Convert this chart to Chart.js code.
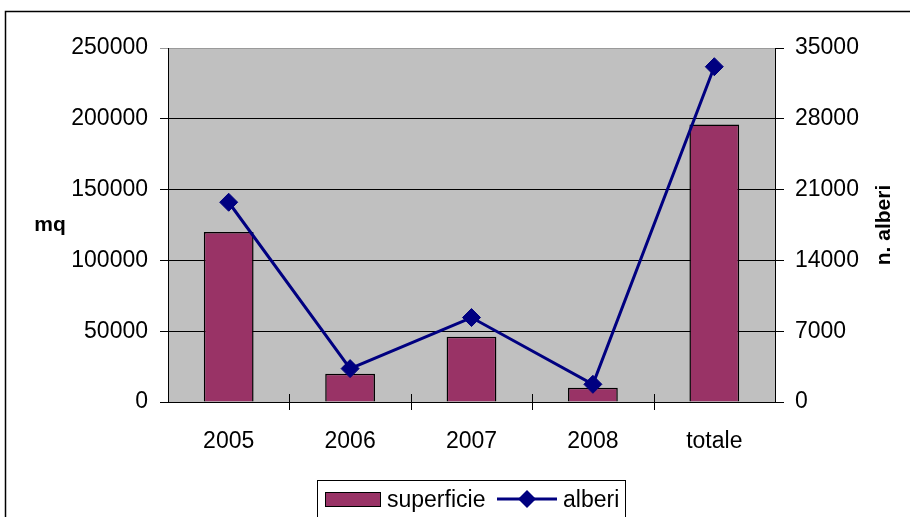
<!DOCTYPE html>
<html>
<head>
<meta charset="utf-8">
<title>superficie e alberi</title>
<script src="https://cdn.jsdelivr.net/npm/chart.js@4/dist/chart.umd.min.js"></script>
<style>
  html, body { margin: 0; padding: 0; background: #ffffff; }
  #wrap { width: 910px; height: 517px; }
</style>
</head>
<body>
<div id="wrap"><canvas id="grafico" width="910" height="517"></canvas></div>
<script>
// ===============================
// Dati
// ===============================
var anni = ["2005", "2006", "2007", "2008", "totale"];
var superficie = [120000, 20000, 46000, 10000, 196000];   // mq
var alberi = [19750, 3300, 8350, 1750, 33150];             // n. alberi

// valori delle tacche sui due assi
var tickMq = [0, 50000, 100000, 150000, 200000, 250000];
var tickAlberi = [0, 7000, 14000, 21000, 28000, 35000];

var FONT = "'Liberation Sans', Arial, sans-serif";
var BORDEAUX = "#993366";
var BLU = "#000080";

// numeri senza separatore delle migliaia
function senzaSeparatori(v) {
    return String(v);
}

// ===============================
// Plugin: sfondo grigio, cornice, titoli assi, legenda
// ===============================
var decorazioni = {
    id: "decorazioni",
    beforeDraw: function(chart) {
        var c = chart.ctx;
        var a = chart.chartArea;
        c.save();
        c.fillStyle = "#c0c0c0";
        c.fillRect(a.left, a.top, a.right - a.left, a.bottom - a.top);
        c.restore();
    },
    afterDraw: function(chart) {
        var c = chart.ctx;
        var a = chart.chartArea;
        var x = chart.scales.x;
        c.save();

        // tacche dell'asse x tra le categorie (attraversano l'asse)
        c.strokeStyle = "#000";
        c.lineWidth = 1;
        var passo = (x.right - x.left) / anni.length;
        for (var i = 1; i < anni.length; i++) {
            var px = Math.round(x.left + i * passo) + 0.5;
            c.beginPath();
            c.moveTo(px, a.bottom - 8);
            c.lineTo(px, a.bottom + 8);
            c.stroke();
        }

        // cornice esterna
        c.lineWidth = 1.5;
        c.strokeRect(5.5, 11.5, 940, 540);

        // titoli degli assi
        c.fillStyle = "#000";
        c.font = "bold 21px " + FONT;
        c.textAlign = "center";
        c.textBaseline = "middle";
        c.fillText("mq", 50, (a.top + a.bottom) / 2);
        c.translate(884, (a.top + a.bottom) / 2);
        c.rotate(-Math.PI / 2);
        c.fillText("n. alberi", 0, 0);
        c.setTransform(1, 0, 0, 1, 0, 0);

        // legenda
        c.lineWidth = 1;
        c.strokeStyle = "#000";
        c.strokeRect(317.5, 480.5, 308, 60);

        c.fillStyle = BORDEAUX;
        c.fillRect(325, 492, 55, 14);
        c.strokeRect(325.5, 492.5, 55, 14);

        c.fillStyle = "#000";
        c.font = "23px " + FONT;
        c.textAlign = "left";
        c.textBaseline = "alphabetic";
        c.fillText("superficie", 387, 507);

        c.strokeStyle = BLU;
        c.lineWidth = 3;
        c.beginPath();
        c.moveTo(497, 499);
        c.lineTo(557, 499);
        c.stroke();
        c.fillStyle = BLU;
        c.beginPath();
        c.moveTo(527, 490);
        c.lineTo(536, 499);
        c.lineTo(527, 508);
        c.lineTo(518, 499);
        c.closePath();
        c.fill();

        c.fillStyle = "#000";
        c.fillText("alberi", 563, 507);
        c.restore();
    }
};

// ===============================
// Grafico
// ===============================
var ctx = document.getElementById("grafico").getContext("2d");

var grafico = new Chart(ctx, {
    data: {
        labels: anni,
        datasets: [
            {
                type: "line",
                label: "alberi",
                data: alberi,
                yAxisID: "yAlberi",
                borderColor: BLU,
                backgroundColor: BLU,
                borderWidth: 3,
                pointStyle: "rectRot",
                pointRadius: 9,
                pointBorderWidth: 1,
                tension: 0,
                order: 1
            },
            {
                type: "bar",
                label: "superficie",
                data: superficie,
                yAxisID: "yMq",
                backgroundColor: BORDEAUX,
                borderColor: "#000",
                borderWidth: 1.5,
                barPercentage: 0.41,
                categoryPercentage: 1,
                order: 2
            }
        ]
    },
    options: {
        responsive: false,
        animation: false,
        layout: { padding: { top: 48, left: 0, right: 0, bottom: 0 } },
        plugins: {
            legend: { display: false },
            tooltip: { enabled: false }
        },
        scales: {
            x: {
                offset: true,
                grid: { display: false },
                border: { display: true, color: "#000", width: 1 },
                ticks: { color: "#000", font: { family: FONT, size: 23 }, padding: 18, maxRotation: 0 },
                afterFit: function(scale) { scale.height = 115; }
            },
            yMq: {
                position: "left",
                min: 0,
                max: 250000,
                afterBuildTicks: function(scale) {
                    scale.ticks = tickMq.map(function(v) { return { value: v }; });
                },
                grid: {
                    color: function(c) { return c.tick && c.tick.value === 250000 ? "#9a9a9a" : "#000"; },
                    lineWidth: 1,
                    tickLength: 8
                },
                border: { display: true, color: "#000", width: 1 },
                ticks: { color: "#000", font: { family: FONT, size: 23 }, padding: 12, callback: senzaSeparatori },
                afterFit: function(scale) { scale.width = 168; }
            },
            yAlberi: {
                position: "right",
                min: 0,
                max: 35000,
                afterBuildTicks: function(scale) {
                    scale.ticks = tickAlberi.map(function(v) { return { value: v }; });
                },
                grid: { drawOnChartArea: false, color: "#000", tickLength: 9 },
                border: { display: true, color: "#000", width: 1 },
                ticks: { color: "#000", font: { family: FONT, size: 23 }, padding: 11, callback: senzaSeparatori },
                afterFit: function(scale) { scale.width = 135; }
            }
        }
    },
    plugins: [decorazioni]
});
</script>
</body>
</html>
